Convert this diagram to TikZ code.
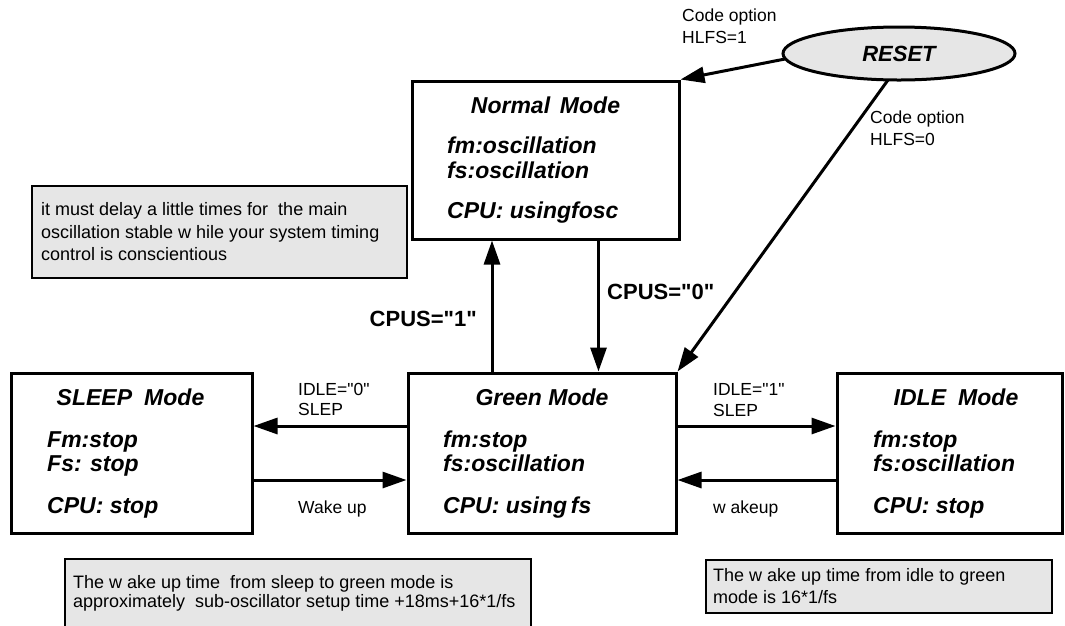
\documentclass[tikz,border=0pt]{standalone}
\usepackage{fontspec}
\setmainfont{Liberation Sans}[Ligatures=TeXOff]
\usetikzlibrary{arrows.meta,shapes.geometric}
\definecolor{notegray}{RGB}{230,230,230}
\newcommand{\strq}{\symbol{34}}
\begin{document}
\begin{tikzpicture}[x=1pt,y=-1pt,
  modebox/.style={draw, line width=3pt, fill=white, inner sep=0pt},
  titletxt/.style={font=\fontsize{23}{27}\selectfont\bfseries\itshape, inner sep=0pt, anchor=base},
  bodytxt/.style={font=\fontsize{23}{27}\selectfont\bfseries\itshape, inner sep=0pt, anchor=base west},
  notebox/.style={draw, line width=1.3pt, fill=notegray, inner sep=0pt},
  notetxt/.style={font=\fontsize{18}{22}\selectfont, inner sep=0pt, anchor=base west},
  lbl/.style={font=\fontsize{17.5}{21}\selectfont, inner sep=0pt, anchor=base west},
  cpus/.style={font=\fontsize{22}{26}\selectfont\bfseries, inner sep=0pt},
  arr/.style={line width=3pt, -{Triangle[length=24pt,width=16pt]}}
]
\useasboundingbox (0,0) rectangle (1065,625);

% ---- boxes
\node[modebox, minimum width=267pt, minimum height=158pt] (normal) at (545.5,160) {};
\node[modebox, minimum width=268pt, minimum height=160pt] (green) at (542,453) {};
\node[modebox, minimum width=241pt, minimum height=160pt] (sleep) at (131.5,453) {};
\node[modebox, minimum width=225pt, minimum height=160pt] (idle) at (949.5,453) {};
\node[draw, line width=3pt, fill=notegray, ellipse, inner sep=0pt,
      minimum width=232pt, minimum height=53pt,
      font=\fontsize{22}{26}\selectfont\bfseries\itshape] (reset) at (899,53.5) {RESET};

% ---- notes
\node[notebox, minimum width=375pt, minimum height=92pt] (note1) at (219.5,232) {};
\node[notebox, minimum width=466pt, minimum height=82pt] (note2) at (298,600) {};
\node[notebox, minimum width=346pt, minimum height=53pt] (note3) at (879,586.5) {};

% ---- box texts
\node[titletxt] (nt) at (545.5,113) {Normal\hspace{0.15em} Mode};
\node[bodytxt] (n1) at (447,153) {fm:oscillation};
\node[bodytxt] (n2) at (447,178) {fs:oscillation};
\node[bodytxt] (n3) at (447,218) {CPU: usingfosc};

\node[titletxt] (gt) at (542,405) {Green Mode};
\node[bodytxt] (g1) at (443,447) {fm:stop};
\node[bodytxt] (g2) at (443,471) {fs:oscillation};
\node[bodytxt] (g3) at (443,513) {CPU: using\,fs};

\node[titletxt] (st) at (130.5,405) {SLEEP\hspace{0.25em} Mode};
\node[bodytxt] (s1) at (47,447) {Fm:stop};
\node[bodytxt] (s2) at (47,471) {Fs: stop};
\node[bodytxt] (s3) at (47,513) {CPU: stop};

\node[titletxt] (it) at (956,405) {IDLE\hspace{0.25em} Mode};
\node[bodytxt] (i1) at (873,447) {fm:stop};
\node[bodytxt] (i2) at (873,471) {fs:oscillation};
\node[bodytxt] (i3) at (873,513) {CPU: stop};

% ---- note texts
\node[notetxt] (t11) at (41,215) {it must delay a little times for\ \ the main};
\node[notetxt] (t12) at (41,238) {oscillation stable w hile your system timing};
\node[notetxt] (t13) at (41,260) {control is conscientious};
\node[notetxt] (t21) at (73,588) {The w ake up time\ \ from sleep to green mode is};
\node[notetxt] (t22) at (73,607) {approximately\ \ sub-oscillator setup time +18ms+16*1/fs};
\node[notetxt] (t31) at (713,581) {The w ake up time from idle to green};
\node[notetxt] (t32) at (713,603) {mode is 16*1/fs};

% ---- connector helper coordinates
\coordinate (ux) at (492,0);
\coordinate (dx) at (598.5,0);
\coordinate (hy1) at (0,426);
\coordinate (hy2) at (0,480);
\coordinate (rs) at (888,80);
\coordinate (rw) at (785,59);

% ---- connectors
\draw[arr] (green.north -| ux) -- (normal.south -| ux);
\draw[arr] (normal.south -| dx) -- (green.north -| dx);
\draw[arr] (rw) -- (normal.north east);
\draw[arr] (rs) -- (green.north east);
\draw[arr] (green.west |- hy1) -- (sleep.east |- hy1);
\draw[arr] (sleep.east |- hy2) -- (green.west |- hy2);
\draw[arr] (green.east |- hy1) -- (idle.west |- hy1);
\draw[arr] (idle.west |- hy2) -- (green.east |- hy2);

% ---- labels
\node[cpus, anchor=base east] (c1) at (477,326) {CPUS=\strq1\strq};
\node[cpus, anchor=base west] (c0) at (607,299) {CPUS=\strq0\strq};
\node[lbl] (ca1) at (682,21) {Code option};
\node[lbl] (ca2) at (682,43) {HLFS=1};
\node[lbl] (cb1) at (870,123) {Code option};
\node[lbl] (cb2) at (870,145) {HLFS=0};
\node[lbl] (l01) at (298,395) {IDLE=\strq0\strq};
\node[lbl] (l02) at (298,415) {SLEP};
\node[lbl] (lw1) at (298,513) {Wake up};
\node[lbl] (l11) at (713,395) {IDLE=\strq1\strq};
\node[lbl] (l12) at (713,416) {SLEP};
\node[lbl] (lw2) at (713,513) {w akeup};
\end{tikzpicture}
\end{document}
